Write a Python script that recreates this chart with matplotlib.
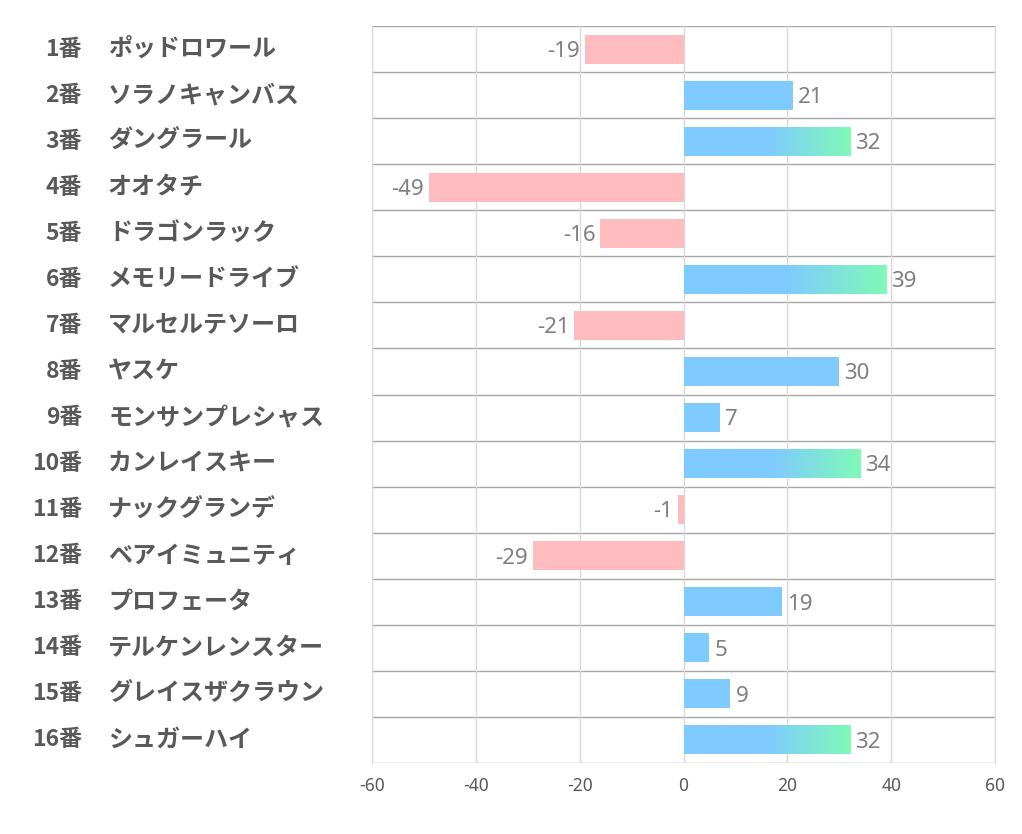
import numpy as np
import matplotlib.pyplot as plt
import matplotlib.transforms as mtransforms
from matplotlib.colors import to_rgb

plt.rcParams['font.family'] = ['Noto Sans CJK JP', 'DejaVu Sans']

numbers = ['1番', '2番', '3番', '4番', '5番', '6番', '7番', '8番',
           '9番', '10番', '11番', '12番', '13番', '14番', '15番', '16番']
names = ['ポッドロワール', 'ソラノキャンバス', 'ダングラール', 'オオタチ',
         'ドラゴンラック', 'メモリードライブ', 'マルセルテソーロ', 'ヤスケ',
         'モンサンプレシャス', 'カンレイスキー', 'ナックグランデ', 'ベアイミュニティ',
         'プロフェータ', 'テルケンレンスター', 'グレイスザクラウン', 'シュガーハイ']
values = [-19, 21, 32, -49, -16, 39, -21, 30, 7, 34, -1, -29, 19, 5, 9, 32]
xticks = [-60, -40, -20, 0, 20, 40, 60]

BLUE = '#7fcbff'
GREEN = '#80f9b8'
PINK = '#ffbcbf'
bar_h = 0.63

fig = plt.figure(figsize=(10.22, 8.34), dpi=100)
ax = fig.add_axes([372 / 1022, 1 - 763 / 834, (995 - 372) / 1022, (763 - 26) / 834])

c0, c1 = np.array(to_rgb(BLUE)), np.array(to_rgb(GREEN))
y = np.arange(len(values))
for yi, v in zip(y, values):
    color = PINK if v < 0 else BLUE
    bars = ax.barh(yi, v, height=bar_h, color=color, zorder=2)
    if v > 30:
        # blue for the first half, then fade to green, clipped to the bar
        t = np.concatenate([np.zeros(100), np.linspace(0, 1, 100)])
        grad = (c0 + (c1 - c0) * t[:, None])[None, :, :]
        im = ax.imshow(grad, extent=(0, v, yi + 0.5, yi - 0.5),
                       aspect='auto', interpolation='bilinear', zorder=3)
        im.set_clip_path(bars[0])

    if v < 0:
        ax.text(v - 1.0, yi + 0.05, str(v), ha='right', va='center',
                fontsize=16, color='#7f7f7f', family=['Noto Sans', 'DejaVu Sans'])
    else:
        ax.text(v + 1.0, yi + 0.05, str(v), ha='left', va='center',
                fontsize=16, color='#7f7f7f', family=['Noto Sans', 'DejaVu Sans'])

ax.set_xlim(-60, 60)
ax.set_ylim(len(values) - 0.5, -0.5)
ax.set_xticks(xticks)
ax.set_xticklabels([str(t) for t in xticks], fontsize=12.5, color='#595959',
                   family=['Noto Sans', 'DejaVu Sans'])
ax.set_yticks([])
ax.tick_params(axis='x', length=0, pad=10)
ax.grid(axis='x', color='#d9d9d9', linewidth=1, zorder=0)
for b in np.arange(-0.5, len(values), 1.0):
    ax.axhline(b, color='#a6a6a6', linewidth=1, zorder=1)
for s in ['top', 'bottom']:
    ax.spines[s].set_visible(False)
for s in ['left', 'right']:
    ax.spines[s].set_color('#d9d9d9')

trans = mtransforms.blended_transform_factory(fig.transFigure, ax.transData)
for yi, num, nm in zip(y, numbers, names):
    ax.text(82 / 1022, yi, num, transform=trans, ha='right', va='center',
            fontsize=16.5, fontweight='bold', color='#595959', clip_on=False)
    ax.text(108 / 1022, yi, nm, transform=trans, ha='left', va='center',
            fontsize=17.3, fontweight='bold', color='#595959', clip_on=False)

fig.savefig('out.png', dpi=100)
